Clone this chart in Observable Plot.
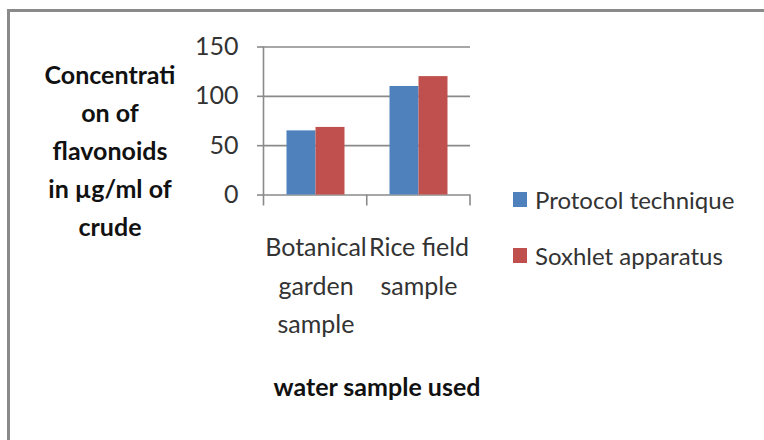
<!DOCTYPE html>
<html>
<head>
<meta charset="utf-8">
<script src="https://cdn.jsdelivr.net/npm/d3@7"></script>
<script src="https://cdn.jsdelivr.net/npm/@observablehq/plot@0.6"></script>
<style>
  html, body { margin: 0; padding: 0; background: #fff; }
  #wrap { position: relative; width: 764px; height: 440px; overflow: hidden; background: #fff; font-family: Lato, "Open Sans", sans-serif; }
  #border { position: absolute; left: 7px; top: 9px; width: 800px; height: 480px; border-top: 3px solid #8a8a8a; border-left: 3px solid #8a8a8a; box-sizing: border-box; }
  #chart { position: absolute; left: 0; top: 0; }
  #ytitle { position: absolute; left: 30px; top: 55px; width: 160px; text-align: center; font-weight: bold; font-size: 25px; line-height: 38px; white-space: pre-line; color: #111; }
  #xtitle { position: absolute; left: 227px; top: 369px; width: 300px; text-align: center; font-weight: bold; font-size: 25px; line-height: 34px; color: #111; }
  #legend { position: absolute; left: 513px; top: 171px; }
  .item { display: flex; align-items: center; height: 56px; font-size: 24px; color: #333; }
  .sw { width: 14px; height: 15px; margin-right: 8px; }
</style>
</head>
<body>
<div id="wrap">
  <div id="border"></div>
  <div id="chart"></div>
  <div id="ytitle"></div>
  <div id="xtitle"></div>
  <div id="legend"></div>
</div>
<script>
const categories = ["Botanical garden sample", "Rice field sample"];
const categoryLabels = ["Botanical\ngarden\nsample", "Rice field\nsample"];
const series = ["Protocol technique", "Soxhlet apparatus"];
const protocolValues = [65, 110];
const soxhletValues = [68.5, 120];
const yTicks = [0, 50, 100, 150];
const colors = ["#4F81BD", "#C0504D"];
const yTitle = "Concentrati\non of\nflavonoids\nin µg/ml of\ncrude";
const xTitle = "water sample used";

const data = [];
categories.forEach((c, i) => {
  data.push({category: c, series: series[0], value: protocolValues[i]});
  data.push({category: c, series: series[1], value: soxhletValues[i]});
});
const labelOf = new Map(categories.map((c, i) => [c, categoryLabels[i]]));

const plot = Plot.plot({
  width: 764,
  height: 440,
  marginLeft: 263.5,
  marginRight: 294,
  marginTop: 46.5,
  marginBottom: 245.5,
  style: {fontFamily: "Lato, 'Open Sans', sans-serif", fontSize: "24px", color: "#333", background: "transparent", overflow: "visible"},
  fx: {domain: categories, padding: 0, label: null},
  x: {domain: series, paddingInner: 0, paddingOuter: 0.76, axis: null},
  y: {domain: [0, 150], label: null},
  color: {domain: series, range: colors},
  marks: [
    Plot.gridY(yTicks, {stroke: "#8a8a8a", strokeOpacity: 1, strokeWidth: 1.6}),
    Plot.axisY(yTicks, {tickSize: 7, tickPadding: 19, stroke: "#8a8a8a", strokeWidth: 1.6, fill: "#333", fontSize: 25, label: null}),
    Plot.barY(data, {fx: "category", x: "series", y: "value", fill: "series"}),
    Plot.axisFx({anchor: "bottom", tickSize: 0, tickPadding: 34, tickFormat: d => labelOf.get(d), fontSize: 25, lineHeight: 1.54, fill: "#333", label: null})
  ]
});
document.getElementById("chart").appendChild(plot);

// Excel-style category boundary ticks and vertical axis line, placed with Plot's scales
const fx = plot.scale("fx");
const ys = plot.scale("y");
const step = (fx.range[1] - fx.range[0]) / categories.length;
const bounds = categories.map((c, i) => fx.range[0] + i * step).concat([fx.range[1]]);
const y0 = ys.apply(0), yTop = ys.apply(150);
const svg = d3.select(plot);
const g = svg.append("g").attr("stroke", "#8a8a8a").attr("stroke-width", 1.6);
bounds.forEach((bx, i) => {
  g.append("line").attr("x1", bx).attr("x2", bx)
    .attr("y1", i === 0 ? yTop : y0).attr("y2", y0 + 11);
});

document.getElementById("ytitle").textContent = yTitle;
document.getElementById("xtitle").textContent = xTitle;
const legend = d3.select("#legend");
series.forEach((s, i) => {
  const it = legend.append("div").attr("class", "item");
  it.append("div").attr("class", "sw").style("background", colors[i]);
  it.append("span").text(s);
});
</script>
</body>
</html>
